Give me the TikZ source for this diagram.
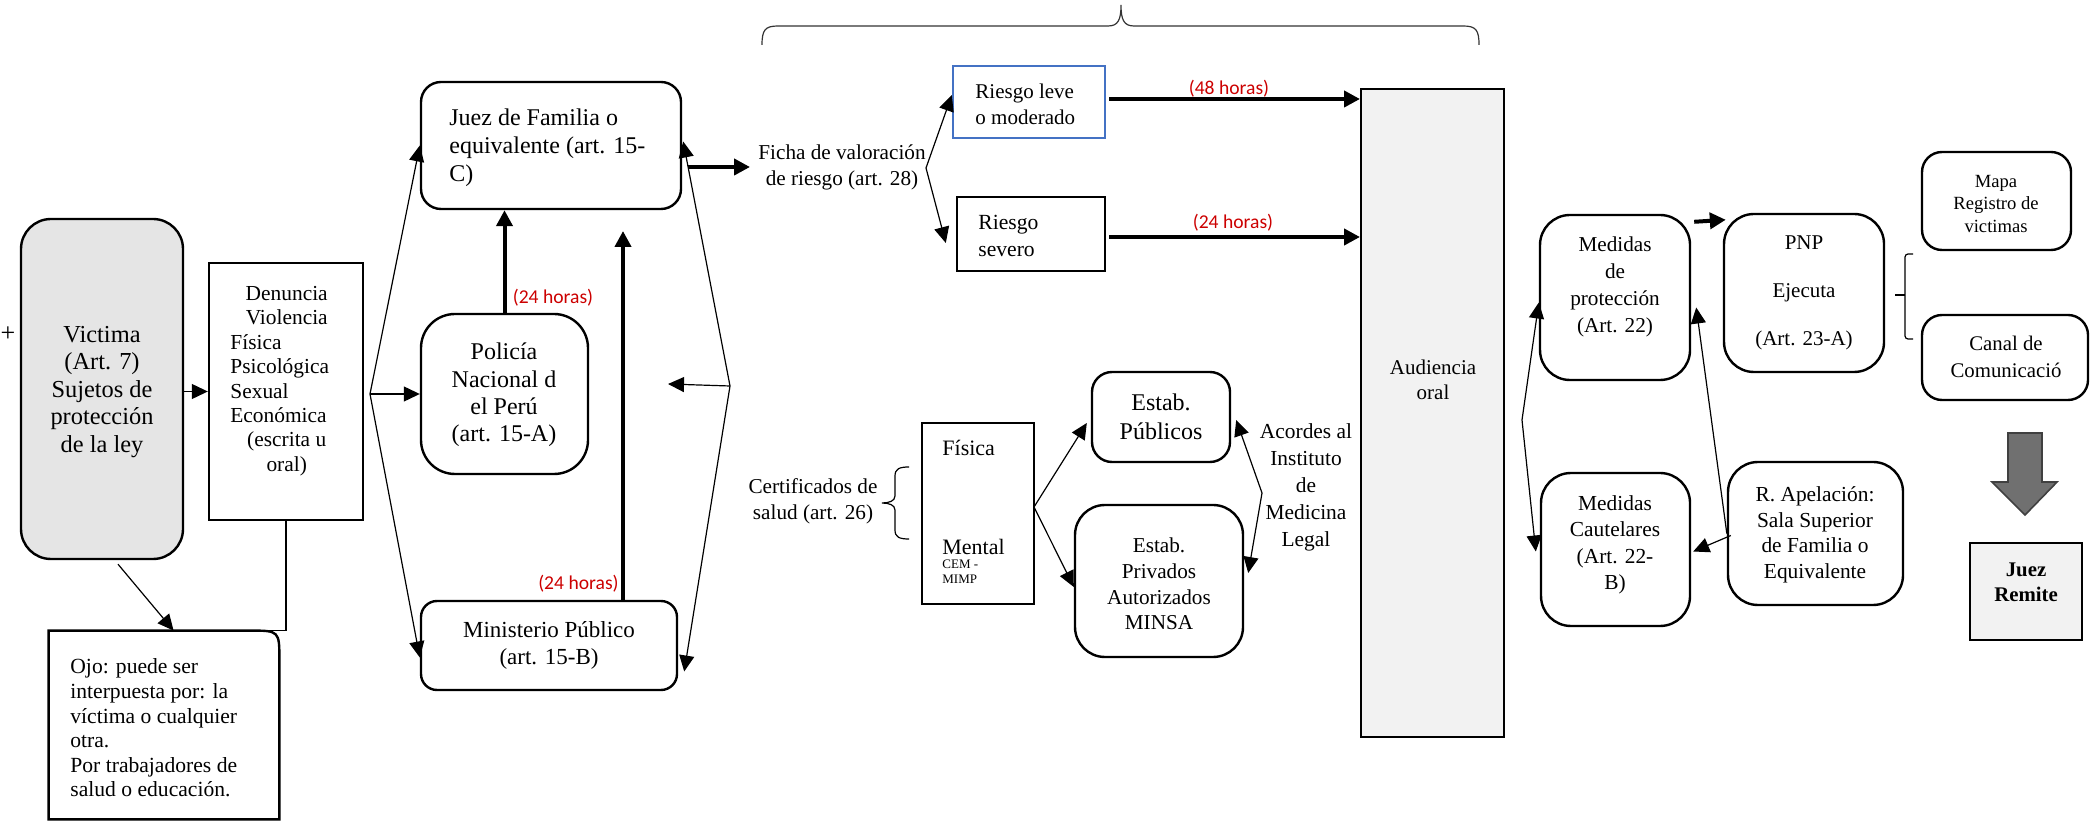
\documentclass[tikz,border=0pt]{standalone}
\usepackage{fontspec}
\setmainfont{Liberation Serif}
\newfontfamily\redfont{Carlito}
\usetikzlibrary{arrows.meta,fit,calc}
\definecolor{hred}{RGB}{204,0,0}
\definecolor{lblue}{RGB}{68,114,196}
\definecolor{vgray}{RGB}{229,229,229}
\definecolor{agray}{RGB}{242,242,242}
\definecolor{dgray}{RGB}{112,112,112}
\newcommand{\fs}[2]{\fontsize{#1}{#2}\selectfont}
\begin{document}
\begin{tikzpicture}[x=0.5pt,y=-0.5pt,
  box/.style={draw, line width=1.2pt, inner sep=0pt},
  rbox/.style={box, rounded corners=#1},
  txt/.style={inner sep=0pt, align=center},
  ln/.style={line width=0.6pt},
  arr/.style={ln, -{Triangle[length=8pt,width=7.5pt]}},
  thk/.style={line width=2pt, -{Triangle[length=8pt,width=8pt]}},
  hrs/.style={inner sep=0pt, text=hred, font=\redfont\fs{9.8}{11}},
]
\useasboundingbox (0,0) rectangle (2091,822);

% left part
\node (plus) [txt, font=\fs{13}{13}] at (8,334) {+};
\node (vic) [rbox=15pt, fill=vgray, fit={(21,219) (183,559)}] {};
\node (victxt) [txt, font=\fs{12.2}{13.75}] at (102,392) {Victima\\(Art. 7)\\Sujetos de\\protección\\de la ley};
\node (den) [box, fit={(209,263) (363,520)}] {};
\node (dentxt) [inner sep=0pt, anchor=west, font=\fs{10.7}{12.2}] at (230,381) {\begin{tabular}{@{}l@{}}\multicolumn{1}{@{\hspace{7pt}}c@{}}{Denuncia}\\ \multicolumn{1}{@{\hspace{7pt}}c@{}}{Violencia}\\ Física\\ Psicológica\\ Sexual\\ Económica\\ \multicolumn{1}{@{\hspace{7pt}}c@{}}{(escrita u}\\ \multicolumn{1}{@{\hspace{7pt}}c@{}}{oral)}\end{tabular}};
\node (ojo) [inner sep=0pt, fit={(49,631) (279,819)}] {};
\draw[line width=1.2pt] (ojo.south west) -- (ojo.north west) -- ($(ojo.north east)+(-30,0)$) .. controls (ojo.north east) .. ($(ojo.north east)+(0,30)$) -- (ojo.south east) -- cycle;
\node (ojotxt) [txt, anchor=west, align=left, font=\fs{10.8}{12.3}] at (70,728) {Ojo: puede ser\\interpuesta por: la\\víctima o cualquier\\otra.\\Por trabajadores de\\salud o educación.};

\draw[arr] (vic.east |- den.west) -- (den.west);
\draw[arr] ($(vic.south)+(16,4)$) -- ($(ojo.north west)+(125,0)$);
\draw[ln] (den.south) |- ($(ojo.north east)+(-30,0)$);

% middle column
\node (juez) [rbox=10pt, fit={(421,82) (681,209)}] {};
\node (jueztxt) [txt, anchor=west, align=left, font=\fs{12}{14}] at (449,148) {Juez de Familia o\\equivalente (art. 15-\\C)};
\node (pol) [rbox=17pt, fit={(421,314) (588,474)}] {};
\node (poltxt) [txt, font=\fs{12}{13.7}] at (504,395) {Policía\\Nacional d\\el Perú\\(art. 15-A)};
\node (min) [rbox=8pt, fit={(421,601) (677,690)}] {};
\node (mintxt) [txt, font=\fs{11.5}{13.5}] at (549,645) {Ministerio Público\\(art. 15-B)};

\coordinate (f1) at (370,394);
\draw[arr] (f1) -- (juez.west);
\draw[arr] (f1) -- (pol.west);
\draw[arr] (f1) -- ($(min.west)+(0,12)$);

\draw[thk] (pol.north) -- (pol.north |- juez.south);
\node (h1) [hrs] at (553,298) {(24 horas)};
\coordinate (mtop) at (623,231);
\draw[thk] (min.north -| mtop) -- (mtop);
\node (h2) [hrs, anchor=east] at (619,584) {(24 horas)};

\coordinate (f2) at (730,386);
\coordinate (f2l) at (668,384);
\draw[arr] (f2) -- ($(juez.east)+(1,-4)$);
\draw[arr] (f2) -- ($(min.east)+(6,26)$);
\draw[arr] (f2) -- (f2l);

% risk assessment
\node (ficha) [txt, font=\fs{10.6}{13}] at (842,167) {Ficha de valoración\\de riesgo (art. 28)};
\draw[thk, shorten <=3pt, shorten >=4pt] (juez.east |- ficha.west) -- (ficha.west);
\node (leve) [box, draw=lblue, fit={(953,66) (1105,138)}] {};
\node (levetxt) [txt, anchor=west, align=left, font=\fs{10.5}{13}] at (975,104) {Riesgo leve\\o moderado};
\node (sev) [box, fit={(957,197) (1105,271)}] {};
\node (sevtxt) [txt, anchor=west, align=left, font=\fs{10.8}{13.3}] at (978,236) {Riesgo\\severo};
\coordinate (f3) at (926,168);
\draw[arr] (f3) -- ($(leve.west)+(0,-7)$);
\draw[arr] (f3) -- ($(sev.west)+(-10,9)$);

\node (aud) [box, line width=1pt, fill=agray, fit={(1361,89) (1504,737)}] {};
\node (audtxt) [txt, font=\fs{10.5}{12.5}] at (1433,380) {Audiencia\\oral};
\draw[thk] ($(leve.east)+(3,-3)$) -- ($(leve.east -| aud.west)+(0,-3)$);
\draw[thk] ($(sev.east)+(3,3)$) -- ($(sev.east -| aud.west)+(0,3)$);
\node (h3) [hrs] at (1229,89) {(48 horas)};
\node (h4) [hrs] at (1233,223) {(24 horas)};

% top brace
\draw[ln, draw=black!80] (762,45) .. controls (762,30) and (765,26) .. (778,26) -- (1108,26) .. controls (1118,26) and (1121,20) .. (1121,5) .. controls (1121,20) and (1124,26) .. (1134,26) -- (1463,26) .. controls (1476,26) and (1479,30) .. (1479,45);

% health certificates
\node (cert) [txt, font=\fs{10.6}{13}] at (813,501) {Certificados de\\salud (art. 26)};
\draw[ln] (909,467) .. controls (899,467) and (895,469) .. (895,476) -- (895,496) .. controls (895,501) and (889,503) .. (882,503) .. controls (889,503) and (895,505) .. (895,510) -- (895,530) .. controls (895,537) and (899,539) .. (909,539);
\node (fm) [box, fit={(922,423) (1034,604)}] {};
\node (fis) [txt, anchor=west, font=\fs{11}{13}] at (942,448) {Física};
\node (ment) [txt, anchor=west, font=\fs{11}{13}] at (942,547) {Mental};
\node (cem) [txt, anchor=north west, align=left, font=\fs{6.5}{7.5}] at (942,559) {CEM -\\MIMP};
\node (pub) [rbox=10pt, fit={(1092,372) (1230,462)}] {};
\node (pubtxt) [txt, font=\fs{12}{14.5}] at (1161,417) {Estab.\\Públicos};
\node (priv) [rbox=15pt, fit={(1075,505) (1243,657)}] {};
\node (privtxt) [txt, font=\fs{10.6}{12.8}] at (1159,584) {Estab.\\Privados\\Autorizados\\MINSA};
\node (acor) [txt, font=\fs{10.7}{13.5}] at (1306,487) {Acordes al\\Instituto\\de\\Medicina\\Legal};
\coordinate (f4) at (1034,507);
\draw[arr] (f4) -- ($(pub.west)+(-4,6)$);
\draw[arr] (f4) -- ($(priv.west)+(0,6)$);
\coordinate (f5) at (1262,493);
\draw[arr] (f5) -- ($(pub.east)+(5,3)$);
\draw[arr] (f5) -- ($(priv.east)+(4,-8)$);

% right part
\node (prot) [rbox=15pt, fit={(1540,215) (1690,380)}] {};
\node (prottxt) [txt, font=\fs{10.6}{13.6}] at (1615,287) {Medidas\\de\\protección\\(Art. 22)};
\node (caut) [rbox=15pt, fit={(1541,473) (1690,626)}] {};
\node (cauttxt) [txt, font=\fs{10.7}{13.2}] at (1615,545) {Medidas\\Cautelares\\(Art. 22-\\B)};
\node (pnp) [rbox=15pt, fit={(1724,214) (1884,372)}] {};
\node (pnptxt) [txt, font=\fs{10.5}{12}] at (1804,293) {PNP\\[12pt]Ejecuta\\[12pt](Art. 23-A)};
\node (ra) [rbox=15pt, fit={(1728,462) (1903,605)}] {};
\node (ratxt) [txt, font=\fs{10.7}{12.8}] at (1815,535) {R. Apelación:\\Sala Superior\\de Familia o\\Equivalente};
\node (mapa) [rbox=10pt, fit={(1922,152) (2071,250)}] {};
\node (mapatxt) [txt, font=\fs{9.3}{11.3}] at (1996,204) {Mapa\\Registro de\\victimas};
\node (canal) [rbox=10pt, fit={(1922,315) (2088,400)}] {};
\node (canaltxt) [txt, font=\fs{10.4}{13.5}] at (2006,357) {Canal de\\Comunicació};
\node (jr) [box, line width=1pt, fill=agray, fit={(1970,543) (2082,640)}] {};
\node (jrtxt) [txt, font=\bfseries\fs{10.4}{12.5}] at (2026,582) {Juez\\Remite};

\coordinate (f6) at (1522,420);
\draw[arr] (f6) -- ($(prot.west)+(0,5)$);
\draw[arr] (f6) -- ($(caut.west)+(-4,2)$);
\draw[thk] ($(prot.north east)+(3,8)$) -- ($(pnp.north west)+(3,7)$);
\draw[arr] (ra.west) -- ($(prot.east)+(5,10)$);
\draw[arr] ($(ra.west)+(4,2)$) -- ($(caut.east)+(2,2)$);

\draw[ln, rounded corners=1.5pt] (1913,254) -- (1905,254) -- (1905,339) -- (1913,339);
\draw[ln] (1905,295) -- (1895,295);

\draw[fill=dgray, draw=black!75, line width=0.8pt] (2008,433) -- (2042,433) -- (2042,482) -- (2057,482) -- (2025,515) -- (1992,482) -- (2008,482) -- cycle;
\end{tikzpicture}
\end{document}
